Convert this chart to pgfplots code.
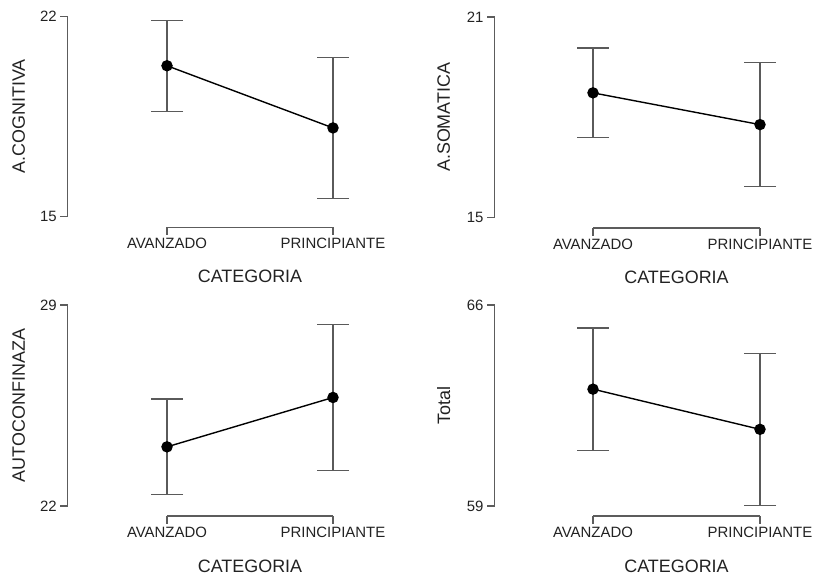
\documentclass[border=0pt]{standalone}
\usepackage{pgfplots}
\pgfplotsset{compat=1.18}
\usepackage{fontspec}
\setmainfont{Liberation Sans}
\definecolor{axgray}{HTML}{5C5C5C}
\definecolor{errgray}{HTML}{5A5A5A}
\definecolor{txt}{HTML}{222222}
\pgfplotsset{rstyle/.style={
  scale only axis, xmin=1, xmax=2, enlargelimits=false, clip=false,
  axis x line*=bottom, axis y line*=left,
  x axis line style={-}, y axis line style={-},
  axis line style={axgray, line width=1.1bp},
  xtick={1,2}, xticklabels={AVANZADO,PRINCIPIANTE},
  tick align=outside, major tick length=7.5bp,
  tick style={axgray, line width=1.1bp},
  ticklabel style={font=\fontsize{15}{18}\selectfont, text=txt},
  /pgf/number format/assume math mode=true,
  xlabel={CATEGORIA},
  xlabel style={at={(axis description cs:0.5,-0.33)}, anchor=base, font=\fontsize{18}{21}\selectfont, text=txt},
  ylabel style={at={(axis description cs:-0.894,0.5)}, anchor=center, font=\fontsize{18}{21}\selectfont, text=txt},
}, meanplot/.style={
  black, line width=1.4bp, mark=*, mark size=5bp,
  mark options={solid, fill=black},
  error bars/.cd, y dir=both, y explicit,
  error bar style={errgray, line width=1.2bp},
  error mark options={rotate=90, mark size=16bp, errgray, line width=1.2bp},
}}
\begin{document}
\begin{tikzpicture}
\useasboundingbox (0,0) rectangle (814bp,-575bp);
% Panel 1
\begin{axis}[rstyle, at={(167bp,-216.3bp)}, anchor=south west, width=166bp, height=199.6bp,
  ymin=15, ymax=22, ytick={15,22}, yticklabels={15,22},
  axis x line shift=11bp, axis y line shift=99.3bp, ylabel={A.COGNITIVA}]
\addplot[meanplot] coordinates {(1,20.28) +- (0,1.60) (2,18.10) +- (0,2.47)};
\end{axis}
% Panel 2
\begin{axis}[rstyle, at={(593bp,-217.5bp)}, anchor=south west, width=167bp, height=200.5bp,
  ymin=15, ymax=21, ytick={15,21}, yticklabels={15,21},
  axis x line shift=10.5bp, axis y line shift=98.5bp, ylabel={A.SOMATICA}]
\addplot[meanplot] coordinates {(1,18.73) +- (0,1.34) (2,17.78) +- (0,1.86)};
\end{axis}
% Panel 3
\begin{axis}[rstyle, at={(167bp,-506bp)}, anchor=south west, width=166bp, height=201bp,
  ymin=22, ymax=29, ytick={22,29}, yticklabels={22,29},
  axis x line shift=10bp, axis y line shift=99.3bp, ylabel={AUTOCONFINAZA}]
\addplot[meanplot] coordinates {(1,24.06) +- (0,1.67) (2,25.78) +- (0,2.54)};
\end{axis}
% Panel 4
\begin{axis}[rstyle, at={(593bp,-506bp)}, anchor=south west, width=167bp, height=201bp,
  ymin=59, ymax=66, ytick={59,66}, yticklabels={59,66},
  axis x line shift=10bp, axis y line shift=98.5bp, ylabel={Total}]
\addplot[meanplot] coordinates {(1,63.07) +- (0,2.13) (2,61.67) +- (0,2.65)};
\end{axis}
\end{tikzpicture}
\end{document}
